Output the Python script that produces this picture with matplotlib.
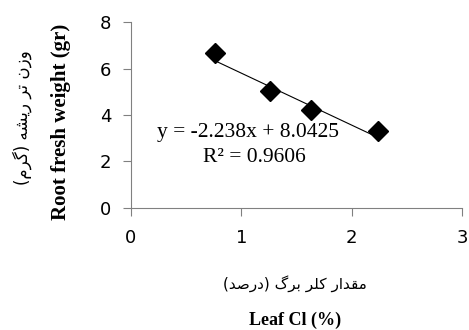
import matplotlib
matplotlib.use("Agg")
import matplotlib.pyplot as plt
import numpy as np

leaf_cl = [0.76, 1.26, 1.63, 2.24]
root_weight = [6.67, 5.03, 4.21, 3.33]
slope, intercept = -2.238, 8.0425
x_ticks = [0, 1, 2, 3]
y_ticks = [0, 2, 4, 6, 8]

# Persian labels in visual (presentation-form) order
x_label_fa = "(" + "\uFEAA\uFEBB\uFEAD\uFEA9" + ")" + " " + "\uFB92\uFEAE\uFE91" + " " + "\uFEAE\uFEE0\uFB90" + " " + "\uFEAD\uFE8D\uFEAA\uFED8\uFEE3"
y_label_fa = "(" + "\uFEE1\uFEAE\uFB94" + ")" + " " + "\uFEEA\uFEB8\uFBFE\uFEAD" + " " + "\uFEAE\uFE97" + " " + "\uFEE5\uFEAF\uFEED"
x_label_en = "Leaf Cl (%)"
y_label_en = "Root fresh weight (gr)"

fig = plt.figure(figsize=(4.69, 3.30), dpi=100)
ax = fig.add_axes([0.279, 0.370, 0.706, 0.563])

ax.plot(leaf_cl, root_weight, linestyle="none", marker="D", markersize=10,
        color="black", zorder=3)
xs = np.array([min(leaf_cl), max(leaf_cl)])
ax.plot(xs, slope * xs + intercept, color="black", linewidth=0.8)

ax.set_xlim(0, 3)
ax.set_ylim(0, 8)
ax.set_xticks(x_ticks)
ax.set_yticks(y_ticks)
for s in ["top", "right"]:
    ax.spines[s].set_visible(False)
for s in ["left", "bottom"]:
    ax.spines[s].set_color("#808080")
ax.tick_params(axis="both", colors="#808080", labelcolor="black", labelsize=13,
               length=6, direction="out")
ax.tick_params(axis="x", pad=9)
ax.tick_params(axis="y", pad=8)
for lab in ax.get_xticklabels() + ax.get_yticklabels():
    lab.set_family("DejaVu Sans")

ax.text(1.06, 3.23, "y = -2.238x + 8.0425", ha="center", va="center",
        family="Liberation Serif", fontsize=15.5)
ax.text(1.115, 2.15, "R\u00b2 = 0.9606", ha="center", va="center",
        family="Liberation Serif", fontsize=15.5)

fig.text(295 / 469, 1 - 284 / 330, x_label_fa, ha="center", va="center",
         family="DejaVu Sans", fontsize=11)
fig.text(295 / 469, 1 - 320 / 330, x_label_en, ha="center", va="center",
         family="Liberation Serif", fontweight="bold", fontsize=13)
fig.text(22 / 469, 1 - 118 / 330, y_label_fa, ha="center", va="center",
         rotation=90, family="DejaVu Sans", fontsize=12)
fig.text(61 / 469, 1 - 122 / 330, y_label_en, ha="center", va="center",
         rotation=90, family="Liberation Serif", fontweight="bold", fontsize=15)

fig.savefig("out.png", dpi=100)
